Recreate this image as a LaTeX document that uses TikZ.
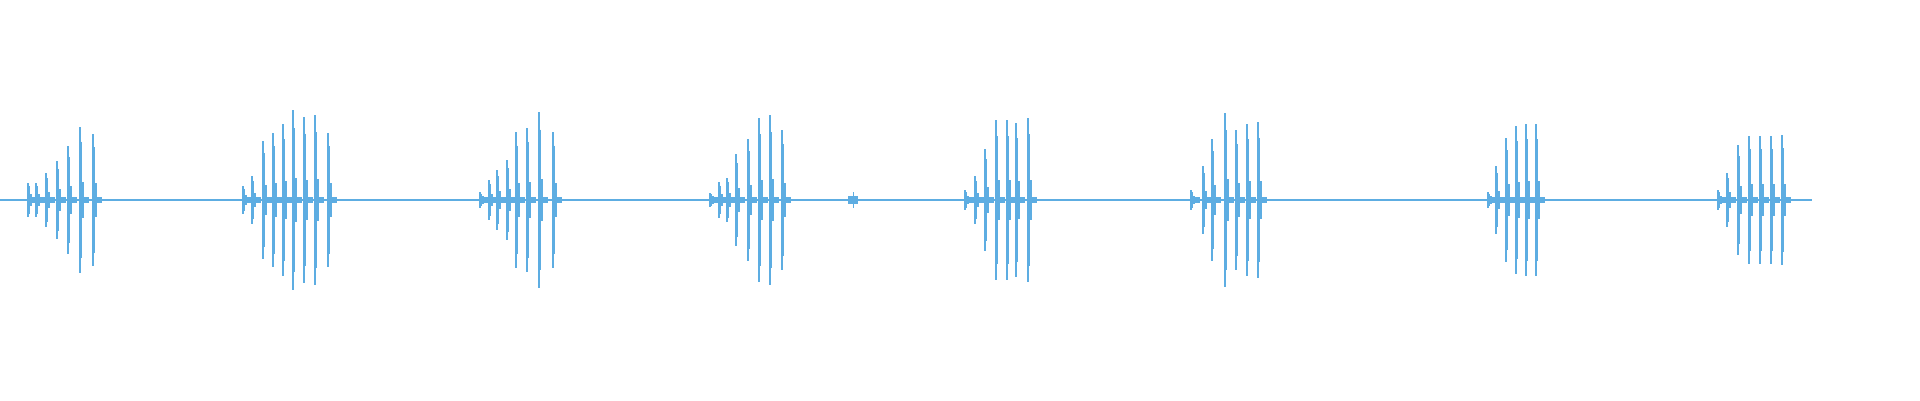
\documentclass[tikz,border=0pt]{standalone}
\definecolor{wave}{HTML}{5DADE2}
\begin{document}
\begin{tikzpicture}[x=1pt,y=-1pt,wv/.style={draw=wave,line width=1.6pt},nz/.style={fill=wave}]
\useasboundingbox (0,0) rectangle (1920,400);
\draw[wave,line width=1.2pt] (0,200) -- (1812,200);
\foreach \x/\a in {28/17,36/17,46/27,57/39,68/54,80/73,93/66,
  243/14,252/24,263/59,273/67,283/76,293/90,304/83,315/85,328/67,
  480/8,489/20,497/30,507/40,516/68,527/72,539/88,553/68,
  710/7,719/18,727/22,736/46,748/61,759/82,770/85,782/70,
  965/10,975/24,985/51,996/80,1007/80,1016/77,1028/82,
  1191/10,1203/34,1212/61,1225/87,1236/70,1247/76,1258/78,
  1488/8,1496/34,1506/62,1516/74,1526/76,1536/76,
  1718/10,1727/27,1738/55,1749/64,1760/64,1771/64,1782/65}{
  \draw[wv] (\x,200-\a) -- (\x,200+\a);
  \draw[wave,line width=1pt] (\x+1.8,200-0.8*\a) -- (\x+1.8,200+0.8*\a);
  \fill[wave] (\x-1,200-0.22*\a-2) rectangle (\x+4,200+0.22*\a+2);
  \fill[wave] (\x+4,197) rectangle (\x+9,203);
}
\fill[wave] (848,196) rectangle (858,204);
\draw[wave,line width=1pt] (853,192) -- (853,208);
\end{tikzpicture}
\end{document}
